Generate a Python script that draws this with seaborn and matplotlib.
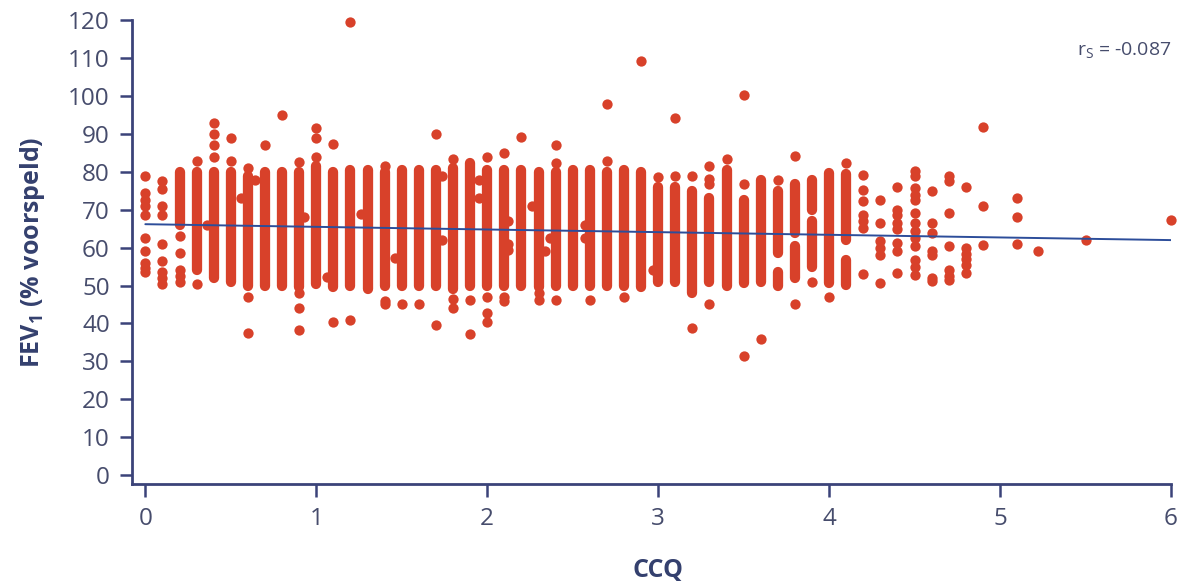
import numpy as np
import pandas as pd
import matplotlib
matplotlib.use("Agg")
import matplotlib.pyplot as plt
import seaborn as sns

# ---------------- data ----------------
# dense vertical runs of overlapping points: CCQ value, FEV1 low, FEV1 high
seg_ccq = [0.2, 0.3, 0.4, 0.5, 0.6, 0.7, 0.8, 0.9, 1.0, 1.1, 1.2, 1.3, 1.4, 1.5,
           1.6, 1.7, 1.8, 1.9, 2.0, 2.1, 2.2, 2.3, 2.4, 2.5, 2.6, 2.7, 2.8, 2.9,
           3.0, 3.1, 3.2, 3.3, 3.4, 3.5, 3.6, 3.7, 3.7, 3.8, 3.8, 3.9, 3.9, 4.0,
           4.1, 4.1]
seg_lo = [66, 54, 52, 51, 50, 50, 50, 49.5, 50.5, 49.5, 50, 49, 50, 50,
          50, 50, 49, 50, 50, 50, 50, 49.5, 50, 50, 50, 50, 50, 49.5,
          51, 51, 48, 51, 49.8, 50.7, 51, 58.6, 50, 64, 52, 70, 55, 50.7,
          62, 50.2]
seg_hi = [80, 80, 80, 80, 79, 80, 80, 80, 81.5, 80, 80.5, 80.5, 80, 80.5,
          80.5, 80.5, 81, 82.4, 80.5, 80.5, 80.5, 80, 80, 80.5, 80.5, 80, 80.5, 80,
          76, 76, 75, 73, 80.6, 72.7, 78, 75, 53.7, 76.7, 60.4, 78, 67, 79.7,
          79.5, 56.8]

# individual (separately visible) points, grouped by CCQ value
point_ccq = [0.0, 0.1, 0.2, 0.3, 0.36, 0.4, 0.5, 0.56, 0.6, 0.64, 0.7, 0.8, 0.9,
             0.93, 1.0, 1.06, 1.1, 1.2, 1.26, 1.4, 1.46, 1.5, 1.6, 1.7, 1.735,
             1.8, 1.9, 1.95, 2.0, 2.1, 2.12, 2.2, 2.26, 2.3, 2.34, 2.37, 2.4,
             2.57, 2.6, 2.7, 2.8, 2.9, 2.97, 3.0, 3.1, 3.2, 3.3, 3.4, 3.5, 3.6,
             3.7, 3.8, 3.9, 4.0, 4.1, 4.2, 4.3, 4.4, 4.5, 4.6, 4.7, 4.8, 4.9,
             5.1, 5.22, 5.5, 6.0]
point_fev = [
    [79, 74.5, 72.5, 71, 68.5, 62.5, 59, 56, 54.5, 53.5],
    [77.5, 75.5, 71, 68.5, 61, 56.4, 53.5, 52, 50.5],
    [63, 58.5, 54, 52.5, 51],
    [83, 50.5],
    [66],
    [84, 87, 90, 93],
    [83, 89],
    [73],
    [81, 47, 37.4],
    [78],
    [87],
    [95],
    [82.5, 48, 44, 38.2],
    [68],
    [84, 89, 91.5],
    [52.3],
    [87.4, 40.3],
    [119.5, 41],
    [69],
    [81.7, 46, 45],
    [57.3],
    [45.1],
    [45.1],
    [90, 39.6],
    [79, 62.1],
    [83.3, 46.5, 44],
    [46.3, 37.2],
    [78, 73],
    [84, 47, 42.7, 40.3],
    [85, 47.1, 45.8],
    [67, 61, 59.5],
    [89.3],
    [71],
    [48, 46.3],
    [59],
    [62.6],
    [87.2, 82.4, 46.3],
    [66, 62.6],
    [46.3],
    [98, 83],
    [47.1],
    [109.3],
    [54.2],
    [78.7],
    [94.3, 79],
    [78.9, 38.8],
    [81.5, 78.2, 76.7, 45.2],
    [83.3],
    [100.2, 76.7, 31.3],
    [35.9],
    [78],
    [84.3, 45.2],
    [51],
    [47],
    [82.4],
    [79.3, 75.3, 72.2, 68.7, 67, 65.2, 53.1],
    [72.7, 66.5, 61.7, 60, 58.1, 50.7],
    [76, 70, 68.7, 66.5, 64.8, 61.2, 59, 53.3],
    [80.2, 78.9, 75.8, 74, 72.7, 69.2, 66.5, 64.3, 62.5, 60.4, 56.8, 55, 52.9],
    [74.9, 66.5, 63.9, 59, 58.1, 52, 51.1],
    [78.9, 77.5, 69.2, 60.4, 54.2, 52.5, 51.5],
    [76, 59.9, 58.2, 57, 55.5, 53.3],
    [92, 71.1, 60.8],
    [73, 68, 61.1],
    [59.2],
    [62.1],
    [67.2],
]

# regression line end points
trend_ccq = [0.0, 6.0]
trend_fev = [66.2, 62.0]

x_ticks = [0, 1, 2, 3, 4, 5, 6]
y_ticks = [0, 10, 20, 30, 40, 50, 60, 70, 80, 90, 100, 110, 120]
r_text = "r$\\mathregular{_S}$ = -0.087"
x_label = "CCQ"
y_label = "FEV$\\mathregular{_1}$ (% voorspeld)"

# ---------------- styling ----------------
RED = "#d8412a"
LINE = "#2c4d9a"
SPINE = "#3b4379"
TICKC = "#464c6c"
LABC = "#34406e"

sns.set_style("ticks")
plt.rcParams["font.family"] = ["Open Sans", "DejaVu Sans"]

df = pd.DataFrame({
    "ccq": [c for c, vals in zip(point_ccq, point_fev) for _ in vals],
    "fev": [v for vals in point_fev for v in vals],
})

fig = plt.figure(figsize=(11.82, 5.86), dpi=100)
ax = fig.add_axes([132 / 1182, 101.7 / 586, 1039 / 1182, 463.8 / 586])

segs = ax.vlines(seg_ccq, seg_lo, seg_hi, colors=RED, linewidth=7.4, zorder=2)
segs.set_capstyle("round")

sns.scatterplot(data=df, x="ccq", y="fev", color=RED, s=55, linewidth=0,
                ax=ax, zorder=3, clip_on=False)
sns.lineplot(x=trend_ccq, y=trend_fev, color=LINE, linewidth=1.4, ax=ax,
             zorder=4)

ax.set_xlim(-0.078, 6.0)
ax.set_ylim(-2.5, 120)
ax.set_xticks(x_ticks)
ax.set_yticks(y_ticks)

sns.despine(ax=ax)
for s in ("left", "bottom"):
    ax.spines[s].set_color(SPINE)
    ax.spines[s].set_linewidth(2.0)

ax.tick_params(direction="out", length=9, width=1.8, color=SPINE,
               labelcolor=TICKC, labelsize=17.5, pad=7)

ax.set_xlabel(x_label, fontsize=18, fontweight="bold", color=LABC)
ax.xaxis.set_label_coords(0.5064, -0.186)
ax.xaxis.label.set_va("center")
ax.set_ylabel(y_label, fontsize=18, fontweight="bold", color=LABC)
ax.yaxis.set_label_coords(-0.0962, 0.5)
ax.yaxis.label.set_va("center")

ax.text(6.0, 111, r_text, ha="right", va="baseline", fontsize=14,
        color=TICKC)

fig.savefig("out.png", dpi=100)
